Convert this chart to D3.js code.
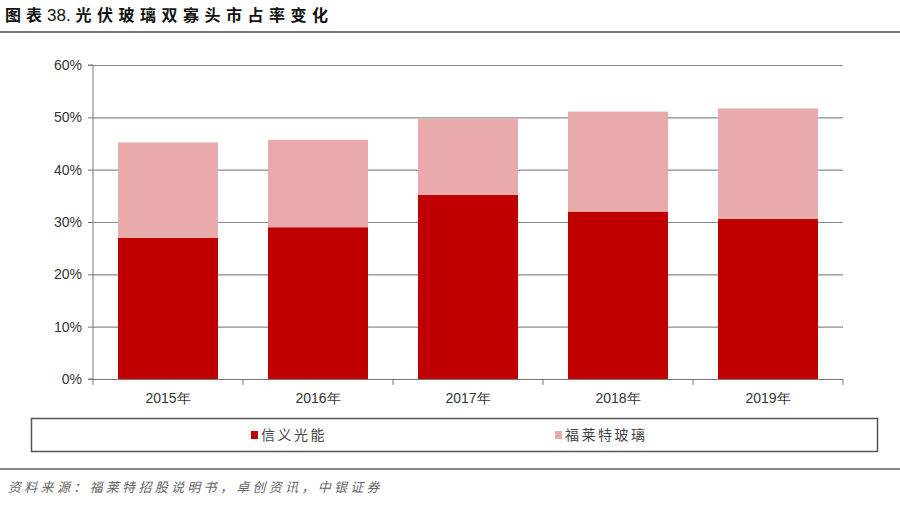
<!DOCTYPE html>
<html><head><meta charset="utf-8">
<script src="https://cdn.jsdelivr.net/npm/d3@7"></script>
<style>
body{margin:0;background:#fff;}
svg{display:block;}
</style></head>
<body>
<svg id="c" width="900" height="508"></svg>
<script>
const categories = ["2015年","2016年","2017年","2018年","2019年"];
const xinyi = [27.0, 29.0, 35.2, 32.0, 30.6];      // 信义光能
const flat  = [18.2, 16.7, 14.5, 19.1, 21.1];      // 福莱特玻璃 (stacked on top)
const seriesNames = ["信义光能","福莱特玻璃"];
const yTicks = [0,10,20,30,40,50,60];

const colors = ["#C00000","#E8AAAA"];
const svg = d3.select("#c");
const m = {l:93, r:843, t:65, b:379};

const x = d3.scaleBand().domain(categories).range([m.l, m.r]).paddingInner(1/3).paddingOuter(1/6);
const y = d3.scaleLinear().domain([0,60]).range([m.b, m.t]);

// title
const title = svg.append("text").attr("x",5).attr("y",21)
  .attr("font-family","'Noto Sans CJK SC'").attr("font-weight","bold")
  .attr("font-size",16).attr("fill","#111");
title.append("tspan").attr("letter-spacing",5).text("图表");
title.append("tspan").attr("font-family","'Liberation Sans', Arial").attr("font-weight","normal").attr("font-size",17).attr("letter-spacing",0).text("38. ");
title.append("tspan").attr("letter-spacing",5.5).text("光伏玻璃双寡头市占率变化");
svg.append("line").attr("x1",0).attr("x2",900).attr("y1",32).attr("y2",32)
  .attr("stroke","#777").attr("stroke-width",2);

// gridlines
svg.append("g").selectAll("line").data(yTicks.filter(d=>d>0)).join("line")
  .attr("x1",m.l).attr("x2",m.r).attr("y1",d=>y(d)+0.5).attr("y2",d=>y(d)+0.5)
  .attr("stroke","#8a8a8a").attr("stroke-width",1.2);

// stacked bars
const rows = categories.map((c,i)=>({cat:c, "信义光能":xinyi[i], "福莱特玻璃":flat[i]}));
const stack = d3.stack().keys(seriesNames)(rows);
svg.append("g").selectAll("g").data(stack).join("g").attr("fill",(d,i)=>colors[i])
  .selectAll("rect").data(d=>d).join("rect")
  .attr("x",d=>x(d.data.cat)).attr("width",x.bandwidth())
  .attr("y",d=>y(d[1])).attr("height",d=>y(d[0])-y(d[1]));

// y axis
const yAxis = d3.axisLeft(y).tickValues(yTicks).tickFormat(d=>d+"%").tickSize(5).tickPadding(6);
const gy = svg.append("g").attr("transform",`translate(${m.l},0)`).call(yAxis);
gy.select(".domain").attr("stroke","#777").attr("d",`M-5,${m.t}H0V${m.b}H-5`);
gy.selectAll(".tick line").attr("stroke","#777");
gy.selectAll("text").attr("font-family","'Liberation Sans', Arial").attr("font-size",14).attr("fill","#333");

// x axis
const gx = svg.append("g").attr("transform",`translate(0,${m.b})`);
gx.append("line").attr("x1",m.l).attr("x2",m.r).attr("y1",0.5).attr("y2",0.5).attr("stroke","#777");
const step = x.step();
const bounds = d3.range(categories.length+1).map(i=>m.l+i*step);
gx.selectAll("line.tk").data(bounds).join("line").attr("class","tk")
  .attr("x1",d=>d).attr("x2",d=>d).attr("y1",0).attr("y2",6).attr("stroke","#777");
gx.selectAll("text").data(categories).join("text")
  .attr("x",d=>x(d)+x.bandwidth()/2).attr("y",24).attr("text-anchor","middle")
  .attr("font-family","'Liberation Sans', Arial").attr("font-size",14).attr("fill","#333")
  .text(d=>d);

// legend
svg.append("rect").attr("x",31.5).attr("y",418.5).attr("width",846).attr("height",33)
  .attr("fill","#fff").attr("stroke","#555").attr("stroke-width",1.5);
const legX = [251, 555];
const lg = svg.append("g").selectAll("g").data(seriesNames).join("g")
  .attr("transform",(d,i)=>`translate(${legX[i]},435)`);
lg.append("rect").attr("x",0).attr("y",-4).attr("width",7).attr("height",8).attr("fill",(d,i)=>colors[i]);
lg.append("text").attr("x",10).attr("y",5).attr("font-family","'Noto Sans CJK SC'")
  .attr("font-size",14).attr("letter-spacing",2.5).attr("fill","#444").text(d=>d);

// footer
svg.append("line").attr("x1",0).attr("x2",900).attr("y1",469).attr("y2",469)
  .attr("stroke","#888").attr("stroke-width",2);
svg.append("text").attr("x",8).attr("y",492)
  .attr("font-family","'Noto Sans CJK SC'").attr("font-style","italic")
  .attr("font-size",13).attr("letter-spacing",3.3).attr("fill","#666")
  .text("资料来源：福莱特招股说明书，卓创资讯，中银证券");
</script>
</body></html>
